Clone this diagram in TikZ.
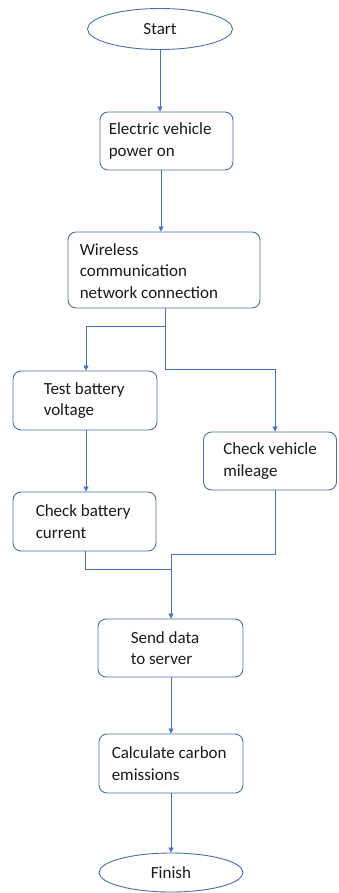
\documentclass[tikz,border=0pt]{standalone}
\usepackage{fontspec}
\setmainfont{Carlito}
\usetikzlibrary{shapes.geometric,arrows.meta,calc}
\definecolor{linkblue}{HTML}{4472C4}
\definecolor{edgeblue}{HTML}{4A6FA5}
\definecolor{inkgray}{HTML}{1A1A1A}
\tikzset{
  stepbox/.style={draw=edgeblue, line width=0.9pt, rounded corners=8pt,
    rectangle, inner sep=0pt, minimum width=#1},
  termbox/.style={draw=edgeblue, line width=0.9pt, ellipse, inner sep=0pt,
    font=\fontsize{17}{21.5}\selectfont, text=inkgray},
  txt/.style={inner sep=0pt, align=left, anchor=west,
    font=\fontsize{17}{21.5}\selectfont, text=inkgray},
  arr/.style={draw=linkblue, line width=0.8pt,
    -{Triangle[length=5pt,width=5pt]}},
  wire/.style={draw=linkblue, line width=0.8pt}
}
\begin{document}
\begin{tikzpicture}[x=1pt,y=-1pt]
\useasboundingbox (0,0) rectangle (338,893);

% terminals
\node[termbox, minimum width=145pt, minimum height=41pt] (start) at (160,29) {Start};
\node[termbox, minimum width=144pt, minimum height=39pt] (finish) at (171,872.5) {Finish};

% process boxes
\node[stepbox=133pt, minimum height=58pt] (b1) at (166.5,141) {};
\node[stepbox=192pt, minimum height=76pt] (b2) at (164,270) {};
\node[stepbox=144pt, minimum height=59pt] (b3) at (85,400.5) {};
\node[stepbox=133pt, minimum height=58pt] (b4) at (270,461) {};
\node[stepbox=143pt, minimum height=59pt] (b5) at (84.5,521.5) {};
\node[stepbox=145pt, minimum height=58pt] (b6) at (170.5,648) {};
\node[stepbox=144pt, minimum height=59pt] (b7) at (171,763.5) {};

% box labels
\node[txt] (t1) at ([xshift=9pt]b1.west) {Electric vehicle\\power on};
\node[txt] (t2) at ([xshift=12pt,yshift=-1pt]b2.west) {Wireless\\communication\\network connection};
\node[txt] (t3) at ([xshift=31pt]b3.west) {Test battery\\voltage};
\node[txt] (t4) at ([xshift=20pt]b4.west) {Check vehicle\\mileage};
\node[txt] (t5) at ([xshift=23pt]b5.west) {Check battery\\current};
\node[txt] (t6) at ([xshift=33pt]b6.west) {Send data\\to server};
\node[txt] (t7) at ([xshift=13pt]b7.west) {Calculate carbon\\emissions};

% routing points
\coordinate (x1) at (161,0);
\coordinate (x2) at (165,0);
\coordinate (split) at (165,326);
\coordinate (lefttop) at (86,326);
\coordinate (rightturn) at (165,369);
\coordinate (righttop) at (275,369);
\coordinate (mergeL) at (85,569);
\coordinate (joinL) at (171,569);
\coordinate (mergeR) at (275,554);
\coordinate (join) at (171,554);

% connectors
\draw[arr] (start.south) -- (start.south |- b1.north);
\draw[arr] (b1.south -| x1) -- (b2.north -| x1);
\draw[wire] (b2.south -| x2) -- (split);
\draw[arr] (split) -- (lefttop) -- (lefttop |- b3.north);
\draw[arr] (split) -- (rightturn) -- (righttop) -- (righttop |- b4.north);
\draw[arr] (b3.south -| lefttop) -- (lefttop |- b5.north);
\draw[wire] (b5.south -| mergeL) -- (mergeL) -- (joinL);
\draw[wire] (b4.south -| mergeR) -- (mergeR) -- (join);
\draw[arr] (join) -- (join |- b6.north);
\draw[arr] (b6.south -| join) -- (join |- b7.north);
\draw[arr] (b7.south -| join) -- (join |- finish.north);
\end{tikzpicture}
\end{document}
